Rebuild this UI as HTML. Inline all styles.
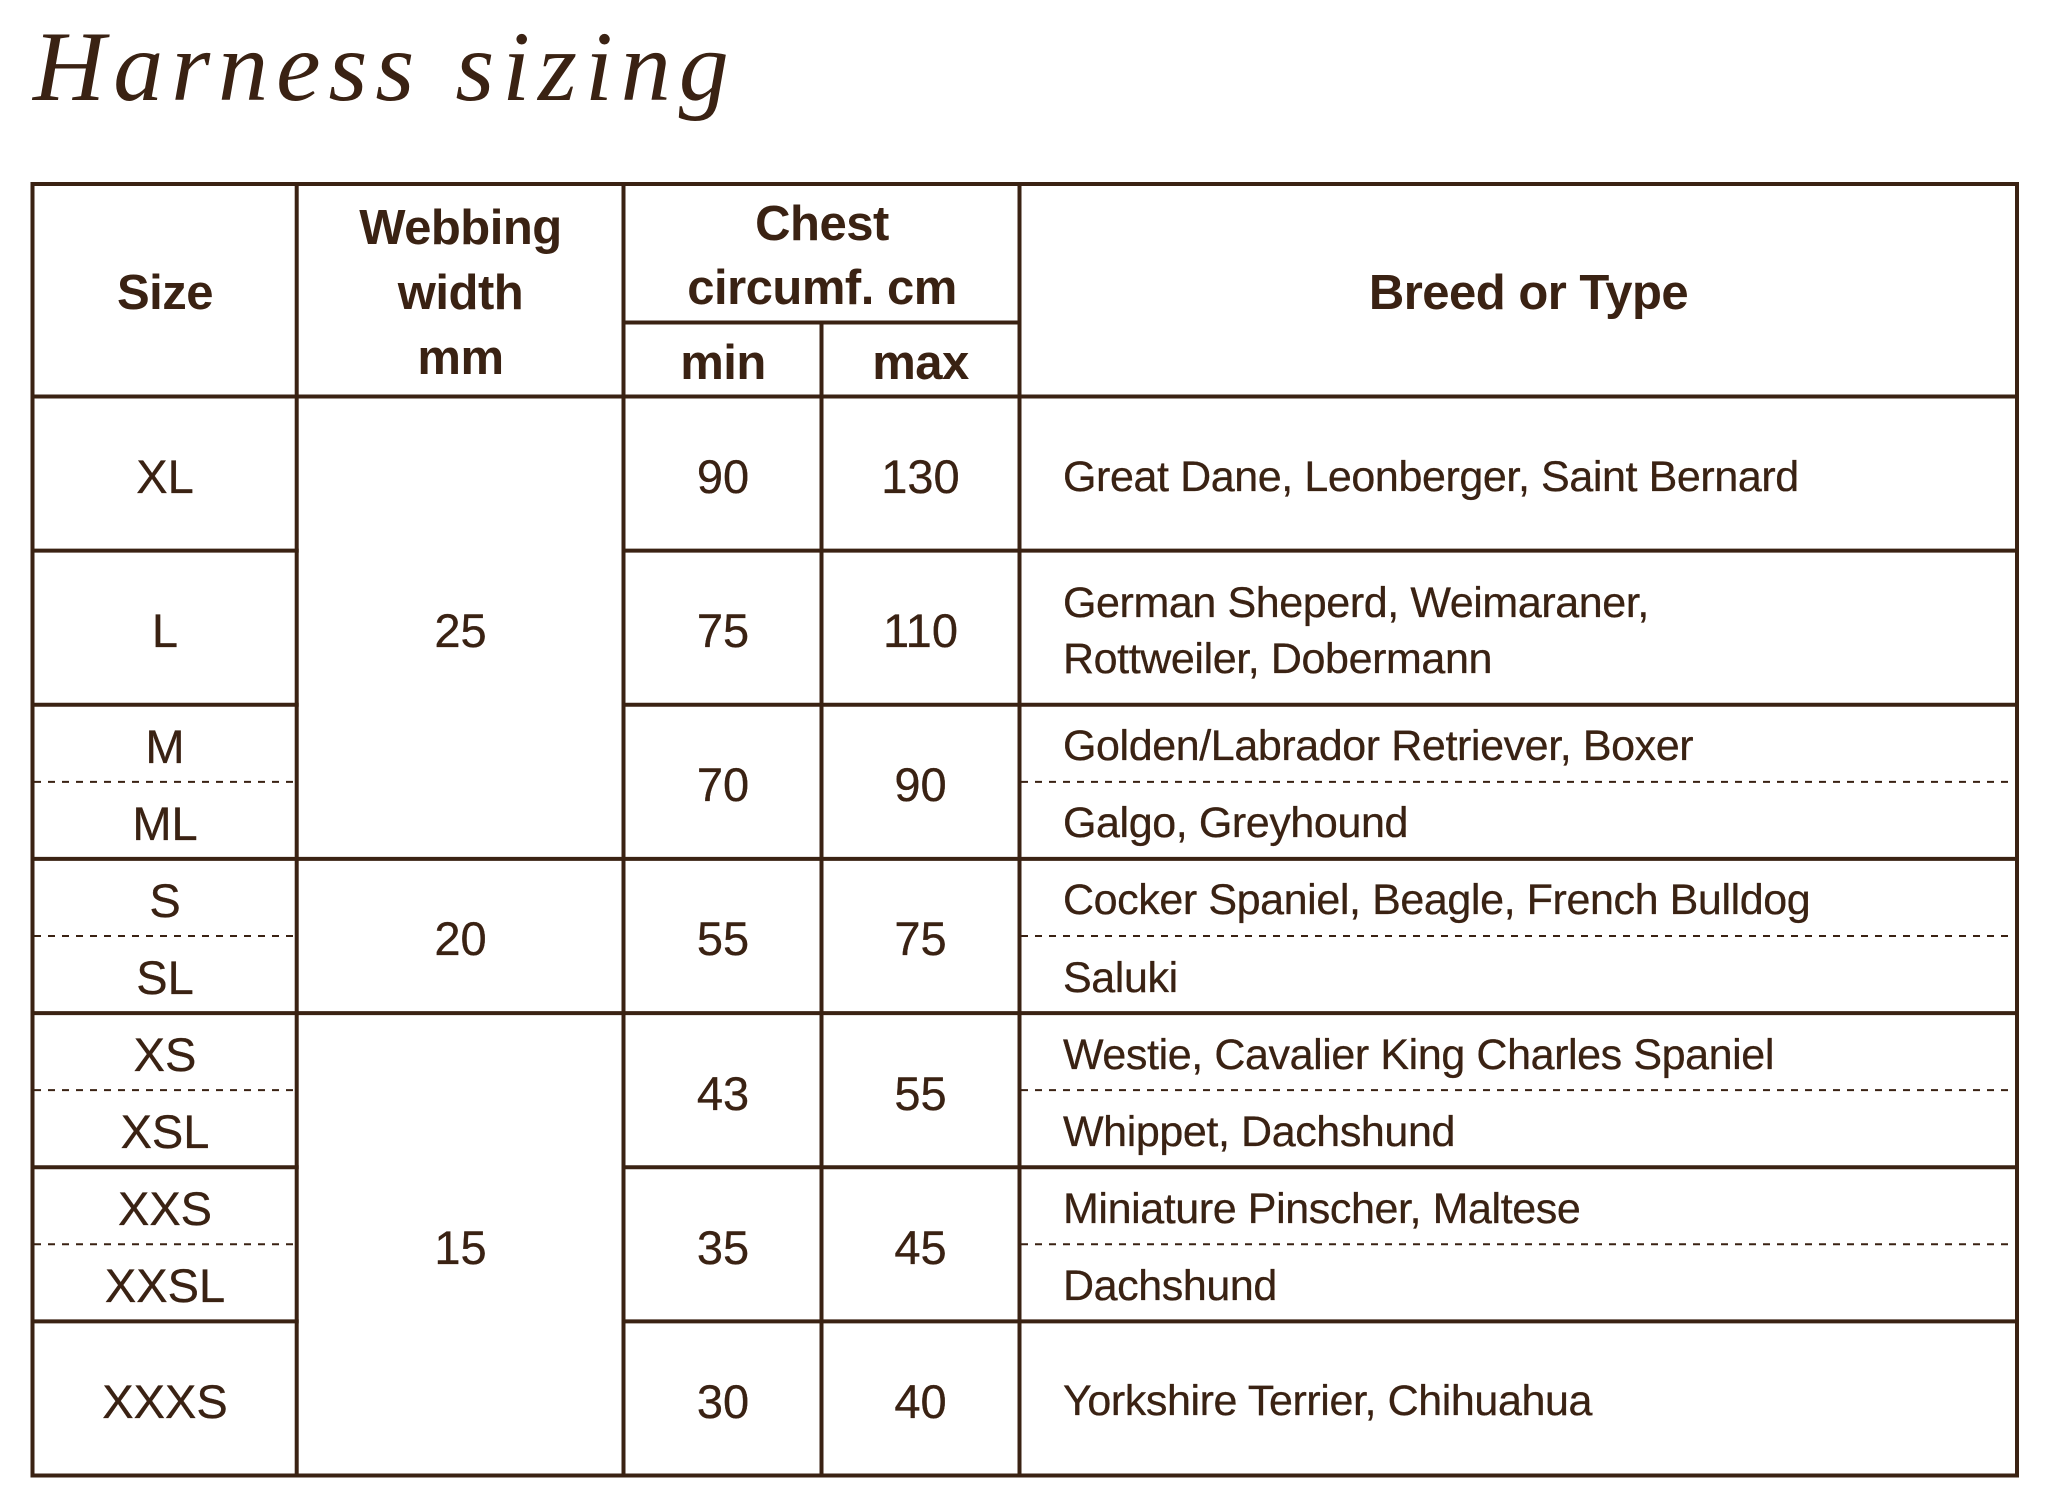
<!DOCTYPE html>
<html>
<head>
<meta charset="utf-8">
<style>
  html, body { margin:0; padding:0; background:#ffffff; }
  body { width:2048px; height:1510px; position:relative; overflow:hidden;
         font-family:"Liberation Sans", sans-serif; color:#3a2213; }
  svg.grid { position:absolute; left:0; top:0; }
  .c { position:absolute; display:flex; align-items:center; justify-content:center; text-align:center; }
  .c > span { position:relative; top:3px; display:block; }
  .l { justify-content:flex-start; text-align:left; }
  .h { font-weight:bold; font-size:49px; letter-spacing:-0.5px; }
  .n { font-size:47px; -webkit-text-stroke:0.3px #3a2213; }
  .b { font-size:43px; letter-spacing:-0.4px; -webkit-text-stroke:0.3px #3a2213; }
  .title { position:absolute; left:33px; top:17px; font-family:"Liberation Serif", serif; font-style:italic;
           font-size:100px; letter-spacing:8px; line-height:1; white-space:nowrap; color:#3a2213; }
</style>
</head>
<body>
<div class="title">Harness sizing</div>

<svg class="grid" width="2048" height="1510" viewBox="0 0 2048 1510">
  <g stroke="#3a2213" stroke-width="4" fill="none" stroke-linecap="square">
    <!-- outer border -->
    <line x1="32.5" y1="184" x2="2017" y2="184"/>
    <line x1="32.5" y1="1475.5" x2="2017" y2="1475.5"/>
    <line x1="32.5" y1="184" x2="32.5" y2="1475.5"/>
    <line x1="2017" y1="184" x2="2017" y2="1475.5"/>
    <!-- column separators -->
    <line x1="296.7" y1="184" x2="296.7" y2="1475.5"/>
    <line x1="623.5" y1="184" x2="623.5" y2="1475.5"/>
    <line x1="1019.5" y1="184" x2="1019.5" y2="1475.5"/>
    <line x1="821.5" y1="322.5" x2="821.5" y2="1475.5"/>
    <!-- header -->
    <line x1="623.5" y1="322.5" x2="1019.5" y2="322.5"/>
    <line x1="32.5" y1="396.5" x2="2017" y2="396.5"/>
    <!-- size col rows -->
    <line x1="32.5" y1="550.6" x2="296.7" y2="550.6"/>
    <line x1="32.5" y1="704.8" x2="296.7" y2="704.8"/>
    <line x1="32.5" y1="1167.2" x2="296.7" y2="1167.2"/>
    <line x1="32.5" y1="1321.4" x2="296.7" y2="1321.4"/>
    <!-- full rows -->
    <line x1="32.5" y1="858.9" x2="2017" y2="858.9"/>
    <line x1="32.5" y1="1013.1" x2="2017" y2="1013.1"/>
    <!-- min/max + breed rows -->
    <line x1="623.5" y1="550.6" x2="2017" y2="550.6"/>
    <line x1="623.5" y1="704.8" x2="2017" y2="704.8"/>
    <line x1="623.5" y1="1167.2" x2="2017" y2="1167.2"/>
    <line x1="623.5" y1="1321.4" x2="2017" y2="1321.4"/>
  </g>
  <g stroke="#3a2213" stroke-width="2" fill="none" stroke-dasharray="7 7">
    <line x1="34" y1="781.9" x2="295" y2="781.9"/>
    <line x1="34" y1="936" x2="295" y2="936"/>
    <line x1="34" y1="1090.1" x2="295" y2="1090.1"/>
    <line x1="34" y1="1244.3" x2="295" y2="1244.3"/>
    <line x1="1021" y1="781.9" x2="2015" y2="781.9"/>
    <line x1="1021" y1="936" x2="2015" y2="936"/>
    <line x1="1021" y1="1090.1" x2="2015" y2="1090.1"/>
    <line x1="1021" y1="1244.3" x2="2015" y2="1244.3"/>
  </g>
</svg>

<!-- Header -->
<div class="c h" style="left:33px;top:184px;width:264px;height:213px;line-height:65px;"><span>Size</span></div>
<div class="c h" style="left:297px;top:184px;width:327px;height:213px;line-height:65px;"><span>Webbing<br>width<br>mm</span></div>
<div class="c h" style="left:624px;top:184px;width:396px;height:138px;line-height:64px;"><span>Chest<br>circumf. cm</span></div>
<div class="c h" style="left:624px;top:322px;width:198px;height:75px;line-height:64px;"><span>min</span></div>
<div class="c h" style="left:821px;top:322px;width:199px;height:75px;line-height:64px;"><span>max</span></div>
<div class="c h" style="left:1030px;top:184px;width:997px;height:213px;line-height:65px;"><span>Breed or Type</span></div>

<!-- Size column -->
<div class="c n" style="left:33px;top:396.5px;width:264px;height:154px;"><span>XL</span></div>
<div class="c n" style="left:33px;top:550.6px;width:264px;height:154px;"><span>L</span></div>
<div class="c n" style="left:33px;top:704.8px;width:264px;height:77px;"><span>M</span></div>
<div class="c n" style="left:33px;top:781.9px;width:264px;height:77px;"><span>ML</span></div>
<div class="c n" style="left:33px;top:858.9px;width:264px;height:77px;"><span>S</span></div>
<div class="c n" style="left:33px;top:936px;width:264px;height:77px;"><span>SL</span></div>
<div class="c n" style="left:33px;top:1013.1px;width:264px;height:77px;"><span>XS</span></div>
<div class="c n" style="left:33px;top:1090.1px;width:264px;height:77px;"><span>XSL</span></div>
<div class="c n" style="left:33px;top:1167.2px;width:264px;height:77px;"><span>XXS</span></div>
<div class="c n" style="left:33px;top:1244.3px;width:264px;height:77px;"><span>XXSL</span></div>
<div class="c n" style="left:33px;top:1321.4px;width:264px;height:154px;"><span>XXXS</span></div>

<!-- Webbing column -->
<div class="c n" style="left:297px;top:396.5px;width:327px;height:462.4px;"><span>25</span></div>
<div class="c n" style="left:297px;top:858.9px;width:327px;height:154.2px;"><span>20</span></div>
<div class="c n" style="left:297px;top:1013.1px;width:327px;height:462.4px;"><span>15</span></div>

<!-- Min column -->
<div class="c n" style="left:624px;top:396.5px;width:198px;height:154px;"><span>90</span></div>
<div class="c n" style="left:624px;top:550.6px;width:198px;height:154px;"><span>75</span></div>
<div class="c n" style="left:624px;top:704.8px;width:198px;height:154px;"><span>70</span></div>
<div class="c n" style="left:624px;top:858.9px;width:198px;height:154px;"><span>55</span></div>
<div class="c n" style="left:624px;top:1013.1px;width:198px;height:154px;"><span>43</span></div>
<div class="c n" style="left:624px;top:1167.2px;width:198px;height:154px;"><span>35</span></div>
<div class="c n" style="left:624px;top:1321.4px;width:198px;height:154px;"><span>30</span></div>

<!-- Max column -->
<div class="c n" style="left:821px;top:396.5px;width:199px;height:154px;"><span>130</span></div>
<div class="c n" style="left:821px;top:550.6px;width:199px;height:154px;"><span>110</span></div>
<div class="c n" style="left:821px;top:704.8px;width:199px;height:154px;"><span>90</span></div>
<div class="c n" style="left:821px;top:858.9px;width:199px;height:154px;"><span>75</span></div>
<div class="c n" style="left:821px;top:1013.1px;width:199px;height:154px;"><span>55</span></div>
<div class="c n" style="left:821px;top:1167.2px;width:199px;height:154px;"><span>45</span></div>
<div class="c n" style="left:821px;top:1321.4px;width:199px;height:154px;"><span>40</span></div>

<!-- Breed column -->
<div class="c l b" style="left:1063px;top:396.5px;width:950px;height:154px;line-height:56px;"><span>Great Dane, Leonberger, Saint Bernard</span></div>
<div class="c l b" style="left:1063px;top:550.6px;width:950px;height:154px;line-height:56px;"><span>German Sheperd, Weimaraner,<br>Rottweiler, Dobermann</span></div>
<div class="c l b" style="left:1063px;top:704.8px;width:950px;height:77px;line-height:56px;"><span>Golden/Labrador Retriever, Boxer</span></div>
<div class="c l b" style="left:1063px;top:781.9px;width:950px;height:77px;line-height:56px;"><span>Galgo, Greyhound</span></div>
<div class="c l b" style="left:1063px;top:858.9px;width:950px;height:77px;line-height:56px;"><span>Cocker Spaniel, Beagle, French Bulldog</span></div>
<div class="c l b" style="left:1063px;top:936px;width:950px;height:77px;line-height:56px;"><span>Saluki</span></div>
<div class="c l b" style="left:1063px;top:1013.1px;width:950px;height:77px;line-height:56px;"><span>Westie, Cavalier King Charles Spaniel</span></div>
<div class="c l b" style="left:1063px;top:1090.1px;width:950px;height:77px;line-height:56px;"><span>Whippet, Dachshund</span></div>
<div class="c l b" style="left:1063px;top:1167.2px;width:950px;height:77px;line-height:56px;"><span>Miniature Pinscher, Maltese</span></div>
<div class="c l b" style="left:1063px;top:1244.3px;width:950px;height:77px;line-height:56px;"><span>Dachshund</span></div>
<div class="c l b" style="left:1063px;top:1321.4px;width:950px;height:154px;line-height:56px;"><span>Yorkshire Terrier, Chihuahua</span></div>
</body>
</html>
